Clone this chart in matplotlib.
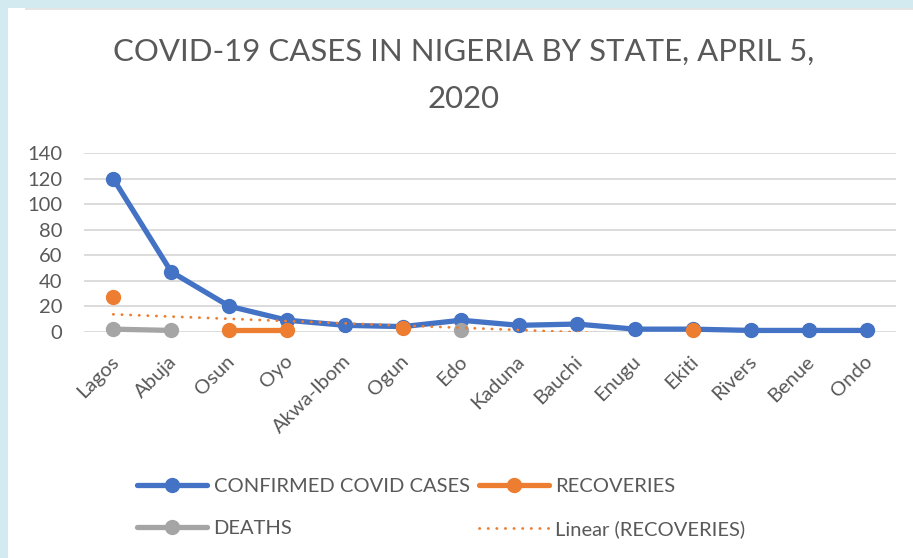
import numpy as np
import matplotlib
matplotlib.use("Agg")
import matplotlib.pyplot as plt
from matplotlib.patches import Rectangle
import matplotlib.transforms as mtransforms

states = ["Lagos", "Abuja", "Osun", "Oyo", "Akwa-Ibom", "Ogun", "Edo", "Kaduna",
          "Bauchi", "Enugu", "Ekiti", "Rivers", "Benue", "Ondo"]
confirmed = [120, 47, 20, 9, 5, 4, 9, 5, 6, 2, 2, 1, 1, 1]
recoveries = [27, np.nan, 1, 1, np.nan, 3, np.nan, np.nan, np.nan, np.nan, 1, np.nan, np.nan, np.nan]
deaths = [2, 1, np.nan, np.nan, np.nan, np.nan, 1, np.nan, np.nan, np.nan, np.nan, np.nan, np.nan, np.nan]
yticks = [0, 20, 40, 60, 80, 100, 120, 140]
title1 = "COVID-19 CASES IN NIGERIA BY STATE, APRIL 5,"
title2 = "2020"

FONT = "Lato"
TXT = "#595959"
BLUE = "#4472C4"
ORANGE = "#ED7D31"
GREY = "#A5A5A5"
GRID = "#D9D9D9"
FS = 14.5

W, H = 913, 558
fig = plt.figure(figsize=(W / 100, H / 100), dpi=100)
fig.patch.set_facecolor("#D3EAF1")
fig.patches.append(Rectangle((8 / W, 0), 1 - 8 / W, 1 - 8 / H, transform=fig.transFigure,
                             facecolor="white", edgecolor="none", zorder=-2))
fig.patches.append(Rectangle((25 / W, 1 - 10 / H), 1, 2 / H, transform=fig.transFigure,
                             facecolor="#E4E4E4", edgecolor="none", zorder=-1))

left, right = 84.3 / W, 895.7 / W
bottom, top = (H - 331.7) / H, (H - 153.3) / H
ax = fig.add_axes([left, bottom, right - left, top - bottom])
ax.set_zorder(2)
ax.set_facecolor("none")

x = np.arange(len(states))
ax.set_xlim(-0.5, len(states) - 0.5)
ax.set_ylim(0, 140)
for s in ax.spines.values():
    s.set_visible(False)
ax.set_yticks(yticks)
ax.yaxis.grid(True, color=GRID, linewidth=1.3)
ax.set_axisbelow(True)
ax.tick_params(axis="both", length=0, colors=TXT, labelsize=FS)
ax.tick_params(axis="y", pad=16)
for lab in ax.get_yticklabels():
    lab.set_fontfamily(FONT)

ax.set_xticks(x)
ax.set_xticklabels(states, rotation=45, ha="right", va="center", rotation_mode="anchor",
                   fontfamily=FONT, fontsize=FS, color=TXT)
offset = mtransforms.ScaledTranslation(3 / 100, -22 / 100, fig.dpi_scale_trans)
for lab in ax.get_xticklabels():
    lab.set_transform(lab.get_transform() + offset)

lw = 3.8
ms = 10
l1, = ax.plot(x, confirmed, color=BLUE, lw=lw, marker="o", ms=ms, clip_on=False, zorder=3,
              solid_capstyle="round", label="CONFIRMED COVID CASES")
l2, = ax.plot(x, recoveries, color=ORANGE, lw=lw, marker="o", ms=ms, clip_on=False, zorder=4,
              solid_capstyle="round", label="RECOVERIES")
l3, = ax.plot(x, deaths, color=GREY, lw=lw, marker="o", ms=ms, clip_on=False, zorder=5,
              solid_capstyle="round", label="DEATHS")

rec = np.array(recoveries, dtype=float)
m = ~np.isnan(rec)
coef = np.polyfit(x[m] + 1, rec[m], 1)
trend = np.polyval(coef, x + 1)
l4, = ax.plot(x, trend, color=ORANGE, lw=2.0, linestyle=(0, (0.1, 3.0)),
              dash_capstyle="round", zorder=6, label="Linear (RECOVERIES)")

fig.text(0.508, 1 - 52 / H, title1, ha="center", va="center", fontsize=22.4, color=TXT, fontfamily=FONT)
fig.text(0.508, 1 - 99 / H, title2, ha="center", va="center", fontsize=22.4, color=TXT, fontfamily=FONT)

leg = fig.legend([l1, l3, l2, l4], ["CONFIRMED COVID CASES", "DEATHS", "RECOVERIES", "Linear (RECOVERIES)"],
                 ncol=2, loc="upper left", bbox_to_anchor=(137 / W, 1 - 478 / H), frameon=False,
                 prop={"family": FONT, "size": FS}, handlelength=3.5, handletextpad=0.3,
                 columnspacing=0.45, labelspacing=1.25, borderpad=0, borderaxespad=0)
for t in leg.get_texts():
    t.set_color(TXT)

fig.savefig("out.png", dpi=100, facecolor=fig.get_facecolor())
